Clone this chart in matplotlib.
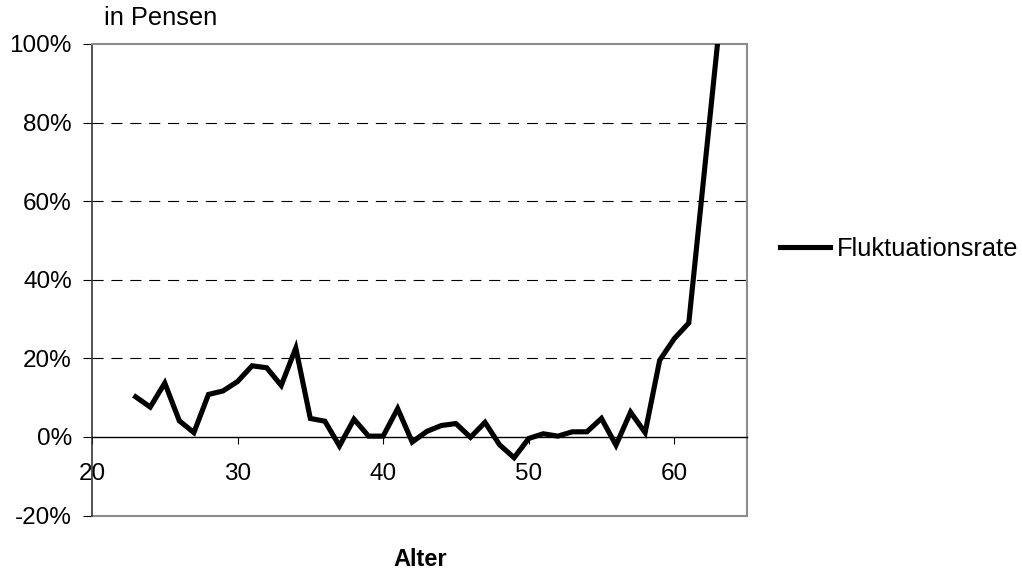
import matplotlib
matplotlib.use('Agg')
import matplotlib.pyplot as plt
from matplotlib.ticker import FuncFormatter

plt.rcParams['font.family'] = ['Liberation Sans', 'DejaVu Sans']

# Data ###################################################
alter = [23, 24, 25, 26, 27, 28, 29, 30, 31, 32, 33, 34, 35, 36, 37, 38, 39, 40,
         41, 42, 43, 44, 45, 46, 47, 48, 49, 50, 51, 52, 53, 54, 55, 56, 57, 58,
         59, 60, 61, 62, 63]
fluktuationsrate = [10.2, 7.6, 13.7, 4.1, 1.1, 10.8, 11.7, 14.1, 18.1, 17.6, 13.1, 22.6,
                    4.7, 4.0, -2.3, 4.5, 0.2, 0.2, 7.2, -1.3, 1.4, 2.9, 3.4, -0.1,
                    3.7, -2.0, -5.3, -0.4, 0.8, 0.2, 1.3, 1.3, 4.7, -2.1, 6.3, 1.1,
                    19.5, 25.0, 29.0, 65.0, 101.0]

x_ticks = [20, 30, 40, 50, 60]
y_ticks = [-20, 0, 20, 40, 60, 80, 100]

# Plot ###################################################
fig = plt.figure(figsize=(10.22, 5.71), dpi=100)
ax = fig.add_axes([92/1022, 1 - 515.5/571, (747 - 92)/1022, (515.5 - 44)/571])

line, = ax.plot(alter, fluktuationsrate, color='black', linewidth=3.7,
                solid_joinstyle='miter', label='Fluktuationsrate', zorder=3)

ax.set_xlim(20, 65)
ax.set_ylim(-20, 100)
ax.set_xticks(x_ticks)
ax.set_yticks(y_ticks)
ax.yaxis.set_major_formatter(FuncFormatter(lambda v, p: '%d%%' % v))

# grid lines (dashed) for 20..80
for y in [20, 40, 60, 80]:
    ax.axhline(y, color='black', linestyle=(0, (10, 7)), linewidth=0.8, zorder=1)

# spines
ax.spines['bottom'].set_position(('data', 0))
ax.spines['bottom'].set_color('black')
ax.spines['bottom'].set_linewidth(1.0)
ax.spines['left'].set_color('#333333')
ax.spines['left'].set_linewidth(1.2)
for s in ['top', 'right']:
    ax.spines[s].set_color('#8c8c8c')
    ax.spines[s].set_linewidth(1.5)
ax.axhline(-20, color='#8c8c8c', linewidth=1.5, clip_on=False, zorder=2)

ax.tick_params(axis='x', direction='out', length=5, width=0.8, pad=14, labelsize=17.5)
ax.tick_params(axis='y', direction='out', length=6.5, width=0.8, pad=8, labelsize=17.5)

fig.text(104/1022, 1 - 18/571, 'in Pensen', fontsize=18.3, va='center', ha='left')
fig.text(420/1022, 1 - 559/571, 'Alter', fontsize=17, fontweight='bold', va='center', ha='center')

fig.legend(handles=[line], loc='center left', bbox_to_anchor=(780/1022, 1 - 249/571),
           frameon=False, borderpad=0, borderaxespad=0, handlelength=1.95,
           handletextpad=0.28, fontsize=18.3)

fig.savefig('out.png', dpi=100)
